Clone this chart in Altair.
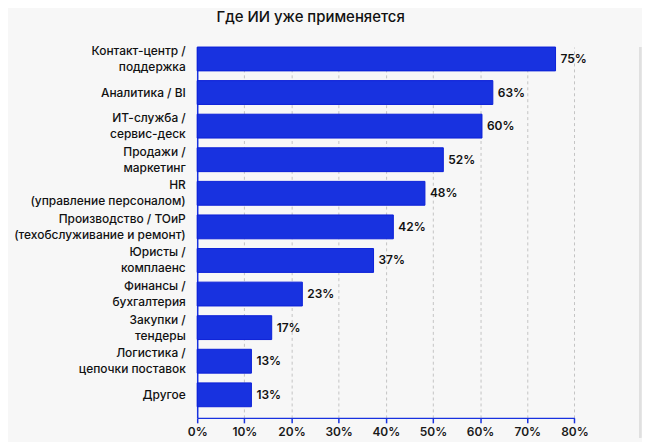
import pandas as pd
import altair as alt

categories = [
    "Контакт-центр /\nподдержка",
    "Аналитика / BI",
    "ИТ-служба /\nсервис-деск",
    "Продажи /\nмаркетинг",
    "HR\n(управление персоналом)",
    "Производство / ТОиР\n(техобслуживание и ремонт)",
    "Юристы /\nкомплаенс",
    "Финансы /\nбухгалтерия",
    "Закупки /\nтендеры",
    "Логистика /\nцепочки поставок",
    "Другое",
]
# bar lengths as drawn in the picture
bar_values = [76.0, 62.7, 60.4, 52.2, 48.3, 41.6, 37.4, 22.3, 15.8, 11.5, 11.5]
# value labels as printed next to the bars
value_labels = ["75%", "63%", "60%", "52%", "48%", "42%", "37%", "23%", "17%", "13%", "13%"]
x_ticks = [0, 10, 20, 30, 40, 50, 60, 70, 80]

data = pd.DataFrame({"category": categories, "value": bar_values, "label": value_labels})

BLUE = "#1832E0"
FONT = "Inter"
PLOT_H = 373

base = alt.Chart(data).encode(
    y=alt.Y(
        "category:N",
        sort=None,
        # bands hug the top of the plot, the spare room sits above the x axis
        scale=alt.Scale(paddingInner=0.29, paddingOuter=0.166, align=0),
        axis=alt.Axis(
            title="",
            ticks=False,
            domainColor=BLUE,
            domainWidth=1.5,
            labelPadding=12,
            labelFontSize=12,
            labelFontWeight=500,
            labelColor="#111111",
            labelLineHeight=16,
            labelLimit=300,
            labelExpr="split(datum.value, '\\n')",
            # two-line labels are centred on the bar, not hung from it
            labelOffset={"expr": "indexof(datum.value, '\\n') >= 0 ? -8 : 0"},
        ),
    ),
    x=alt.X(
        "value:Q",
        scale=alt.Scale(domain=[0, 80], nice=False),
        axis=alt.Axis(
            title="",
            values=x_ticks,
            labelExpr="datum.value + '%'",
            labelFlush=False,
            domainColor=BLUE,
            domainWidth=1.5,
            tickColor=BLUE,
            tickSize=5,
            tickWidth=1.5,
            labelPadding=4,
            labelFontSize=12,
            labelFontWeight=600,
            labelColor="#1a1a1a",
            grid=True,
            gridDash=[3, 3],
            gridColor="#c4c4c4",
            gridWidth=1,
        ),
    ),
)

bars = base.mark_bar(color=BLUE, stroke="#0B1FD8", strokeWidth=1)

labels = base.mark_text(
    align="left",
    baseline="middle",
    dx=5,
    fontSize=12,
    fontWeight=600,
    color="#111111",
    font=FONT,
).encode(text="label:N")

# faint edge of the card on the right
edge = alt.Chart(data).mark_rule(color="#e0e0e0", strokeWidth=2).encode(
    x=alt.value(445.5), y=alt.value(0), y2=alt.value(PLOT_H + 20)
)

chart = (
    (bars + labels + edge)
    .properties(
        width=379.4,
        height=PLOT_H,
        padding={"left": 5.3, "top": 0, "right": 0, "bottom": 2},
        background="#f7f7f7",
        title=alt.TitleParams(
            "Где ИИ уже применяется",
            anchor="start",
            frame="group",
            dx=19.5,
            offset=20,
            fontSize=15,
            fontWeight=500,
            font=FONT,
            color="#111111",
        ),
    )
    .configure_view(strokeWidth=0)
    .configure_axis(labelFont=FONT)
)

chart.save("out.html", embed_options={"renderer": "svg", "actions": False})
